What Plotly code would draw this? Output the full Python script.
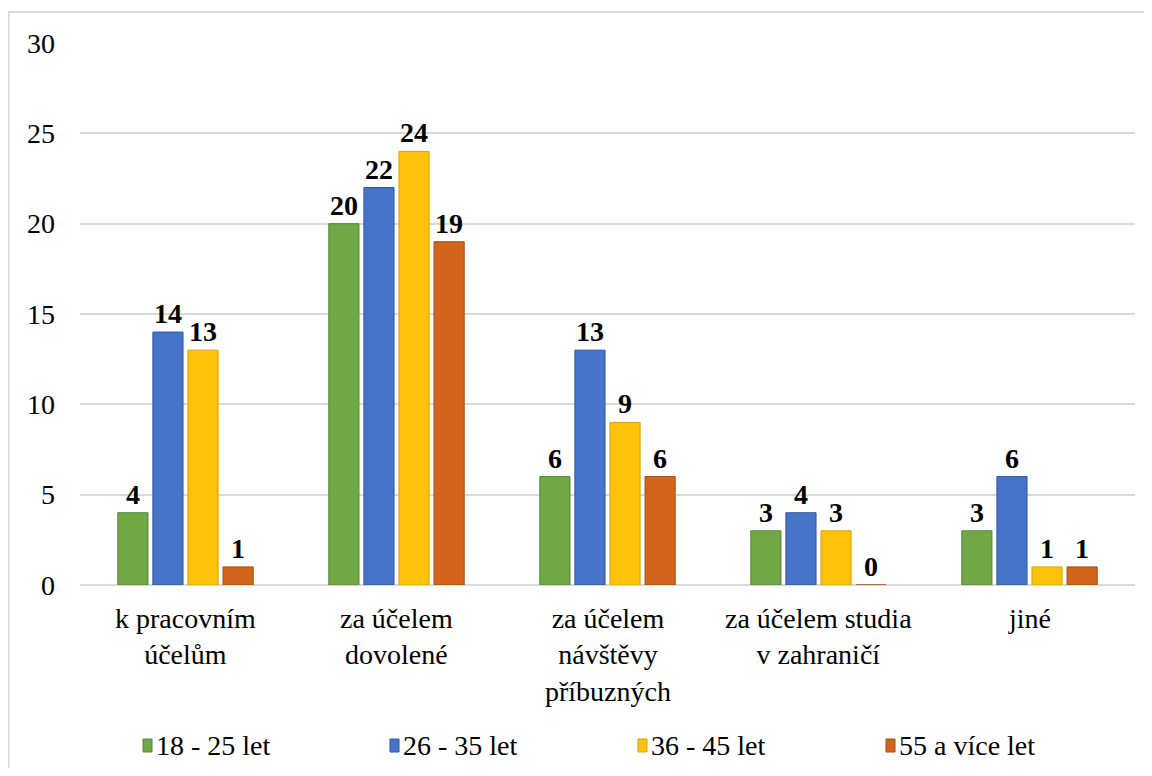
import plotly.graph_objects as go

categories = ["k pracovním<br>účelům", "za účelem<br>dovolené", "za účelem<br>návštěvy<br>příbuzných",
              "za účelem studia<br>v zahraničí", "jiné"]
series_names = ["18 - 25 let", "26 - 35 let", "36 - 45 let", "55 a více let"]
age_18_25 = [4, 20, 6, 3, 3]
age_26_35 = [14, 22, 13, 4, 6]
age_36_45 = [13, 24, 9, 3, 1]
age_55_plus = [1, 19, 6, 0, 1]
y_ticks = [0, 5, 10, 15, 20, 25, 30]

colors = ["#6FA845", "#4674C8", "#FFC20A", "#D2651B"]
edges = ["#558634", "#33579A", "#D9A300", "#A44C10"]
FONT = "Liberation Serif"

W, H = 1136, 760
L, R, T, B = 72, 9, 35, 183
PW, PH = W - L - R, H - T - B


def px_x(x):
    return (x - L) / PW


def px_y(y):
    return (H - B - y) / PH


fig = go.Figure()
for name, vals, c, e in zip(series_names, [age_18_25, age_26_35, age_36_45, age_55_plus], colors, edges):
    fig.add_trace(go.Bar(
        x=categories, y=vals, name=name,
        marker=dict(color=c, line=dict(color=e, width=1)),
        text=vals, textposition="outside", cliponaxis=False,
        textfont=dict(family=FONT, size=28, color="black", weight="bold"),
    ))

fig.update_layout(
    width=W, height=H,
    plot_bgcolor="white", paper_bgcolor="white",
    font=dict(family=FONT, size=28, color="black"),
    margin=dict(l=L, r=R, t=T, b=B),
    barmode="group", bargap=0.335, bargroupgap=0.14,
    showlegend=False,
)
fig.update_yaxes(range=[0, 30], tickvals=y_ticks, showgrid=True, gridcolor="#D9D9D9", gridwidth=1.5,
                 zeroline=True, zerolinecolor="#D9D9D9", zerolinewidth=1.5, showline=False,
                 ticks="", ticklabelstandoff=24, tickfont=dict(family=FONT, size=28))
fig.update_xaxes(showline=False, ticks="", showgrid=False, showticklabels=False)

# category labels
for cat in categories:
    fig.add_annotation(x=cat, xref="x", y=0, yref="paper", yanchor="top", yshift=-16,
                       text=cat, showarrow=False, align="center",
                       font=dict(family=FONT, size=28))

# legend drawn by hand so it keeps the serif font
legend_sym_x = [135, 382, 630, 878]
for name, c, e, sx in zip(series_names, colors, edges, legend_sym_x):
    fig.add_shape(type="rect", xref="paper", yref="paper",
                  x0=px_x(sx), x1=px_x(sx + 9), y0=px_y(744), y1=px_y(731),
                  fillcolor=c, line=dict(color=e, width=1))
    fig.add_annotation(x=px_x(sx + 11), xref="paper", y=px_y(737), yref="paper",
                       xanchor="left", yanchor="middle", text=name, showarrow=False,
                       font=dict(family=FONT, size=28))

fig.add_shape(type="rect", xref="paper", yref="paper", x0=px_x(0.5), x1=1.1, y0=-0.5, y1=px_y(4),
              line=dict(color="#D9D9D9", width=2), fillcolor="rgba(0,0,0,0)", layer="below")

fig.write_html("out.html")
